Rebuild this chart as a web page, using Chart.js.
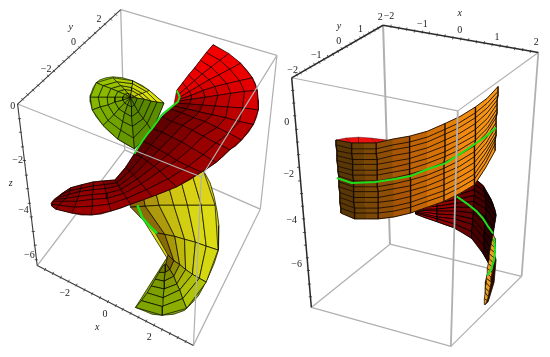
<!DOCTYPE html>
<html>
<head>
<meta charset="utf-8">
<style>
  html, body { margin: 0; padding: 0; background: #fff; }
  canvas { display: block; }
</style>
<script src="https://cdn.jsdelivr.net/npm/chart.js@4"></script>
</head>
<body>
<canvas id="chart" width="550" height="357"></canvas>
<script>
// ---------------------------------------------------------------
// Data, in picture units (x: 0-550, y: 0-357)
// ---------------------------------------------------------------

// Left box corners
const LA = [118, 5], LB = [13, 102], LC = [277, 52], LD = [200, 177];
const LE = [33, 268], LF = [192, 350], LG = [260, 210], LH = [122, 149];
// Right box corners
const RA = [385, 21], RB = [292, 75], RC = [543, 49], RD = [461, 109];
const RE = [312, 311], RF = [454, 351], RG = [526, 279], RH = [392, 246];

const backEdges = [[LA, LH], [LH, LE], [LH, LG], [RH, RE], [RH, RG]];
const heavyBackEdges = [[RA, RH]];
const frontEdges = [[LA, LC], [LB, LD], [LD, LC], [LD, LF], [LC, LG], [LF, LG],
                    [RB, RD], [RD, RC], [RE, RF], [RF, RG]];
const heavyFrontEdges = [[RD, RF], [RC, RG]];
const leftAxisEdges = [[LA, LB], [LB, LE], [LE, LF]];
const rightAxisEdges = [[RA, RB], [RA, RC], [RB, RE]];

// Tick marks along the black edges
const leftYTicks = [[113,10],[108,15],[102,20],[97,24],[92,29],[86,34],[81,39],[76,44],[71,49],[65,54],[60,58],[55,63],[50,68],[44,73],[39,78],[34,83],[29,88],[23,92],[18,97]];
const leftZTicks = [[15,117],[16,131],[18,146],[20,160],[22,175],[23,189],[25,204],[27,218],[29,233],[31,247],[32,262]];
const leftXTicks = [[41,272],[49,276],[57,280],[65,284],[73,288],[81,293],[89,297],[97,301],[105,305],[113,309],[120,313],[128,317],[136,321],[144,325],[152,329],[160,334],[168,338],[176,342],[184,346]];
const rightXTicks = [[393,22],[401,24],[409,25],[417,27],[425,28],[432,29],[440,31],[448,32],[456,34],[464,35],[472,36],[480,38],[488,39],[496,41],[504,42],[511,43],[519,45],[527,46],[535,48]];
const rightYTicks = [[380,24],[376,26],[371,29],[366,32],[362,34],[357,37],[352,40],[348,43],[343,45],[339,48],[334,51],[329,53],[325,56],[320,59],[315,61],[311,64],[306,67],[301,70],[297,72]];
const rightZTicks = [[293,88],[294,101],[295,114],[297,128],[298,141],[299,154],[299,167],[300,181],[302,194],[303,207],[304,220],[305,234],[306,247],[308,260],[309,273],[310,287],[311,300]];

// Tick labels and axis letters
const labelTexts = ['2','0','−2','0','−2','−4','−6','−2','0','2','2','−2','−1','0','1','2','1','0','−1','−2','0','−2','−4','−6'];
const labelXs = [96,70,42,8,13,19,25,61,102,147,382,391,425,463,501,541,362,340,317,293,287,289,292,297];
const labelYs = [15,39,66,104,160,211,257,297,318,342,13,12,20,26,33,39,25,38,52,67,121,174,222,267];
const letterTexts = ['y','z','x','y','x'];
const letterXs = [67,6,94,340,463];
const letterYs = [23,183,331,22,9];

// Left plot, back sheet: spokes running from the centre to the rim
const greenOutline = [[162,101],[155,95],[147,88],[140,83],[130,78],[120,75],[110,74],[103,75],[97,77],[93,80],[90,85],[87,93],[87,100],[89,108],[93,115],[100,124],[107,131],[115,138],[123,143],[132,148],[150,130]];
const greenSpokes = [
  [[128,95],[135,96],[142,97],[149,99],[155,100],[162,101]],
  [[128,95],[132,94],[136,92],[140,91],[144,89],[147,88]],
  [[128,95],[128,92],[129,88],[129,85],[130,81],[130,78]],
  [[128,95],[125,91],[122,87],[118,83],[114,79],[110,75]],
  [[128,95],[122,92],[115,89],[108,86],[100,83],[93,80]],
  [[128,95],[120,95],[112,95],[104,95],[95,95],[87,95]],
  [[128,95],[120,98],[112,100],[105,103],[97,105],[89,108]],
  [[128,95],[122,101],[116,107],[111,113],[105,119],[100,124]],
  [[128,95],[125,103],[122,111],[120,120],[118,129],[115,138]],
  [[128,95],[129,105],[129,115],[130,125],[131,137],[132,148]],
  [[128,95],[132,103],[136,110],[141,117],[145,122],[150,130]],
  [[128,95],[135,96],[142,97],[149,99],[155,100],[162,101]]
];
const greenColors = ['#e2e40e','#d4de0c','#b4d006','#98c400','#8cbc00','#86b600','#7cae00','#72a400','#689800','#5c8c00','#5c8c00'];

// Left plot, lower sheet
const yellowOutlineUpper = [[128,200],[202,170],[209,183],[213,197],[216,212],[218,227],[218,240],[217,252],[213,266],[207,280],[165,260]];
const yellowOutlineLower = [[165,260],[207,280],[202,290],[197,299],[190,307],[183,314],[172,318],[160,319],[150,318],[143,315],[133,311]];
const yellowSpokes = [
  [[126,200],[140,192],[152,186],[165,180],[178,176],[190,172],[202,170]],
  [[128,208],[143,207],[157,206],[172,206],[186,206],[200,206],[214,206]],
  [[153,234],[163,236],[173,238],[183,241],[194,244],[205,248],[217,252]],
  [[166,257],[172,263],[178,267],[184,272],[191,277],[198,281],[205,285]],
  [[164,266],[168,272],[172,279],[175,287],[178,293],[181,302],[185,312]],
  [[163,267],[163,275],[162,284],[162,292],[161,301],[160,310],[160,319]],
  [[161,268],[157,275],[153,282],[149,289],[145,296],[139,304],[133,311]]
];
const yellowColors = ['#dcd414','#dcdc14','#d4d810','#b0c408','#8cac00','#80a400'];
const yellowRings = [0.62, 0.36, 0.18, 0.08, 0.02, 0];
const yellowStrength = [1, 1, 1, 1, 0.7, 0.5];

// Left plot, red sheet: spokes from the green curve out to the rim
const redOutlineUpper = [[175,88],[212,41],[222,47],[232,54],[240,60],[247,68],[252,75],[255,81],[257,88],[258,98],[258,108],[256,116],[253,123],[172,104]];
const redOutlineLower = [[172,104],[253,123],[248,131],[241,139],[235,145],[229,149],[222,156],[215,162],[208,167],[200,172],[188,180],[175,187],[163,192],[150,197],[139,201],[128,205],[118,209],[108,212],[98,215],[88,216],[78,216],[68,214],[60,212],[52,210],[48,207],[47,204],[50,200],[58,194],[67,188],[78,185],[90,182],[100,181],[112,180],[123,167],[132,153],[140,140],[150,127],[160,115]];
const redSpokes = [
  [[175,88],[181,80],[187,72],[193,65],[199,57],[205,49],[212,41]],
  [[177,92],[185,85],[193,78],[201,71],[210,64],[219,57],[228,50]],
  [[178,95],[188,89],[198,83],[208,77],[218,72],[229,66],[240,60]],
  [[178,97],[190,93],[202,88],[214,84],[226,81],[239,78],[252,75]],
  [[177,99],[190,97],[204,95],[217,93],[230,91],[244,89],[257,88]],
  [[175,101],[188,102],[201,103],[214,104],[227,105],[242,106],[258,108]],
  [[172,104],[185,107],[198,110],[211,113],[225,116],[239,120],[253,123]],
  [[168,107],[180,111],[192,116],[204,120],[216,126],[228,132],[241,139]],
  [[160,115],[170,120],[181,124],[191,129],[202,135],[215,142],[229,149]],
  [[150,127],[160,131],[170,136],[180,141],[190,147],[202,154],[215,162]],
  [[140,140],[149,144],[157,149],[166,154],[175,160],[187,166],[200,172]],
  [[132,153],[139,157],[145,161],[152,166],[158,171],[166,179],[175,187]],
  [[123,167],[127,171],[131,175],[135,179],[139,184],[144,190],[150,197]],
  [[112,180],[114,183],[116,186],[118,190],[121,194],[124,199],[128,205]],
  [[100,181],[101,185],[102,189],[103,194],[104,199],[106,205],[108,212]],
  [[90,182],[90,186],[90,190],[89,195],[89,200],[89,207],[88,216]],
  [[78,185],[77,189],[76,192],[75,197],[73,202],[71,208],[68,214]],
  [[67,188],[66,191],[65,195],[62,199],[59,202],[55,206],[52,210]],
  [[58,194],[56,196],[54,198],[51,200],[49,202],[48,205],[48,207]]
];
const redColors = ['#f40000','#f00000','#ec0000','#e40000','#d80000','#c80000','#b80000','#aa0000','#a20000','#9c0000','#980000','#940000','#940000','#980000','#a40000','#9c0000','#900000','#880000'];
const redRings = [0.5, 0.4, 0.28, 0.18, 0.08, 0];
const redStrength = [0.1, 0.15, 0.3, 0.5, 0.8, 1, 1, 1, 1, 1, 1, 0.9, 0.7, 0.5, 0.3, 0.3, 0.3, 0.3];

// Right plot, orange band: one list per column, top to bottom
const bandColumns = [
  [[337,139],[337,144],[338,150],[338,155],[338,160],[339,166],[339,171],[340,176],[340,182],[340,187],[341,193],[341,198],[341,203],[342,209],[342,214]],
  [[353,142],[353,148],[353,153],[354,159],[354,164],[354,170],[354,175],[355,181],[355,187],[355,192],[355,198],[355,203],[356,209],[356,214],[356,220]],
  [[366,142],[366,148],[366,153],[366,159],[366,164],[367,170],[367,175],[367,181],[367,187],[367,192],[367,198],[367,203],[368,209],[368,214],[368,220]],
  [[378,142],[378,148],[378,153],[379,159],[379,164],[379,170],[379,175],[379,181],[379,187],[380,192],[380,198],[380,203],[380,209],[380,214],[380,220]],
  [[395,138],[395,144],[395,149],[395,155],[395,161],[395,167],[395,172],[396,178],[396,184],[396,189],[396,195],[396,201],[396,207],[396,212],[396,218]],
  [[412,135],[412,141],[412,146],[412,152],[412,158],[412,163],[412,169],[412,174],[413,180],[413,186],[413,191],[413,197],[413,203],[413,208],[413,214]],
  [[430,130],[430,136],[430,141],[430,147],[430,152],[430,158],[430,163],[430,169],[430,175],[430,180],[430,186],[430,191],[430,197],[430,202],[430,208]],
  [[448,122],[448,128],[448,133],[448,139],[448,145],[448,151],[448,156],[447,162],[447,168],[447,173],[447,179],[447,185],[447,191],[447,196],[447,202]],
  [[463,115],[463,121],[463,126],[463,132],[463,138],[463,143],[463,149],[463,154],[463,160],[463,166],[463,171],[463,177],[463,183],[463,188],[463,194]],
  [[479,105],[479,111],[479,116],[479,122],[479,128],[479,134],[479,139],[478,145],[478,151],[478,156],[478,162],[478,168],[478,174],[478,179],[478,185]],
  [[491,96],[491,101],[491,106],[491,111],[491,117],[491,122],[491,127],[490,132],[490,137],[490,142],[490,147],[489,153],[489,158],[489,163],[489,168]],
  [[502,84],[502,89],[502,93],[501,98],[501,102],[501,107],[501,111],[500,116],[500,121],[500,125],[500,130],[500,134],[499,139],[499,143],[499,150]]
];
const bandColors = ['#5a3806','#6a4006','#7c4806','#8e4e06','#a85606','#c06408','#d47208','#e6800c','#f08a10','#f49214','#f89a18'];
const bandLineColumns = [0, 1, 3, 5, 7, 9, 11];

// Right plot, red cap on top of the band
const capBack = [[337,139],[347,137],[360,136],[373,137],[389,139]];
const capFront = [[337,139],[353,142],[360,142],[378,142],[389,139]];
const capColors = ['#e81010','#f01010','#f01010','#e81010'];

// Right plot, dark sheet behind the band
const darkOutline = [[418,205],[418,215],[428,219],[440,223],[448,226],[457,229],[466,234],[475,240],[482,247],[487,256],[492,265],[500,215],[495,200],[487,186],[478,178]];
const darkColumns = [
  [[418,205],[418,206],[418,207],[418,208],[418,209],[418,210],[418,211],[418,212],[418,213],[418,214],[418,215]],
  [[440,195],[440,198],[440,201],[440,204],[440,207],[440,210],[440,212],[440,215],[440,218],[440,220],[440,223]],
  [[459,188],[459,192],[459,196],[459,200],[459,204],[458,208],[458,212],[458,216],[458,220],[457,225],[457,229]],
  [[478,178],[478,184],[478,190],[478,196],[477,202],[477,208],[477,214],[476,220],[476,226],[475,233],[475,240]],
  [[487,186],[488,192],[489,198],[490,204],[490,210],[489,218],[489,225],[488,233],[488,240],[488,248],[487,256]],
  [[495,200],[497,205],[499,211],[500,217],[499,223],[498,229],[497,236],[495,243],[494,250],[493,257],[492,265]]
];
const darkColors = ['#b80808','#900404','#680202','#460000','#2a0000'];

// Right plot, the thin twisted end of the sheet
const twistShadow = [[498,255],[500,262],[498,285],[492,305],[489,308],[489,285]];
const twistRows = [
  [[497,236],[499,240]],[[496,241],[499,245]],[[495,246],[499,250]],[[494,251],[499,255]],
  [[493,256],[498,260]],[[493,261],[497,265]],[[492,266],[497,270]],[[491,271],[496,275]],
  [[491,276],[495,280]],[[490,281],[495,285]],[[490,286],[494,290]],[[489,291],[493,295]],
  [[489,296],[492,300]],[[488,302],[491,304]],[[488,308],[489,308]]
];

// Green curves lying on the surfaces
const leftCurveUpper = [[175,88],[177,92],[178,95],[176,100],[172,103],[166,108],[160,113],[155,120],[150,127],[145,133],[140,140],[136,146],[132,153]];
const leftCurveLower = [[135,206],[140,219],[147,227],[155,235]];
const rightCurveBand = [[338,178],[353,183],[377,182],[397,179],[413,176],[430,169],[448,163],[464,153],[480,142],[490,135],[500,126]];
const rightCurveDark = [[460,197],[470,204],[480,212],[487,220],[492,228],[497,235]];
const rightCurveTwist = [[498,240],[499,252],[498,262],[495,272],[491,278]];

// ---------------------------------------------------------------
// Helpers that turn the lists above into Chart.js datasets
// ---------------------------------------------------------------
const MESH_LINE = 'rgba(0,0,0,0.85)';
const CURVE_GREEN = '#1ce01c';
const toPts = (list) => list.map((p) => ({ x: p[0], y: p[1] }));

function mix(a, b, t) {
  const ch = (h, i) => parseInt(h.substr(1 + i * 2, 2), 16);
  const out = [0, 1, 2].map((i) => Math.round(ch(a, i) * (1 - t) + ch(b, i) * t));
  return `rgb(${out[0]},${out[1]},${out[2]})`;
}

const datasets = [];

function addLine(list, color, width) {
  datasets.push({ data: toPts(list), showLine: true, borderColor: color, borderWidth: width, pointRadius: 0, fill: false, tension: 0 });
}

function addPoly(list, color, lineColor, width) {
  datasets.push({ data: toPts(list.concat([list[0]])), showLine: true, fill: 'shape', backgroundColor: color, borderColor: lineColor, borderWidth: width, pointRadius: 0, tension: 0 });
}

// Each cell of a grid becomes one filled four-sided shape.
// ringMix says how far each ring leans to the shadow colour,
// strength scales that for each column.
function addMesh(columns, colors, ringMix, shadow, width, strength) {
  for (let c = 0; c < columns.length - 1; c++) {
    for (let r = 0; r < columns[c].length - 1; r++) {
      const cell = [columns[c][r], columns[c + 1][r], columns[c + 1][r + 1], columns[c][r + 1]];
      const t = (ringMix[r] || 0) * (strength ? strength[c] : 1);
      addPoly(cell, mix(colors[c], shadow, Math.min(t, 1)), MESH_LINE, width);
    }
  }
}

function addTicks(list, angle) {
  datasets.push({ data: toPts(list), showLine: false, pointStyle: 'line', pointRadius: 1.6, pointRotation: angle, pointBorderColor: '#333', pointBorderWidth: 0.8 });
}

// Painter's order: first pushed ends up underneath
backEdges.forEach((e) => addLine(e, '#b0b0b0', 1.3));
heavyBackEdges.forEach((e) => addLine(e, '#b0b0b0', 2));

addPoly(greenOutline, '#8cbc00', '#1c2800', 0.7);
addMesh(greenSpokes, greenColors, [0.1, 0.08, 0.05, 0.02, 0], '#203000', 0.7);

addPoly(yellowOutlineUpper, '#d4d410', '#222200', 0.8);
addPoly(yellowOutlineLower, '#86a800', '#1c2800', 0.8);
addMesh(yellowSpokes, yellowColors, yellowRings, '#5a2800', 0.8, yellowStrength);
addLine(leftCurveLower, CURVE_GREEN, 2.5);

addPoly(redOutlineUpper, '#e40000', '#300000', 0.7);
addPoly(redOutlineLower, '#a00000', '#300000', 0.7);
addMesh(redSpokes, redColors, redRings, '#200000', 0.7, redStrength);
addLine(leftCurveUpper, CURVE_GREEN, 2);

addPoly(darkOutline, '#700000', '#200000', 0.7);
addMesh(darkColumns, darkColors, [], '#000000', 0.9);
addLine(rightCurveDark, CURVE_GREEN, 2);
addPoly(twistShadow, '#2a0a00', '#1a0800', 0.8);
for (let r = 0; r < twistRows.length - 1; r++) {
  addPoly([twistRows[r][0], twistRows[r][1], twistRows[r + 1][1], twistRows[r + 1][0]], '#eda020', '#1a1000', 0.7);
}
addLine(rightCurveTwist, CURVE_GREEN, 2);

for (let i = 0; i < capBack.length - 1; i++) {
  addPoly([capBack[i], capBack[i + 1], capFront[i + 1], capFront[i]], capColors[i], 'rgba(60,0,0,0.6)', 0.7);
}
// Band: cells without a dark edge, then the rows and only some of the columns
for (let c = 0; c < bandColumns.length - 1; c++) {
  for (let r = 0; r < bandColumns[c].length - 1; r++) {
    const cell = [bandColumns[c][r], bandColumns[c + 1][r], bandColumns[c + 1][r + 1], bandColumns[c][r + 1]];
    addPoly(cell, bandColors[c], bandColors[c], 0.5);
  }
}
for (let r = 0; r < bandColumns[0].length; r++) {
  addLine(bandColumns.map((col) => col[r]), 'rgba(25,10,0,0.9)', 1);
}
bandLineColumns.forEach((c) => addLine(bandColumns[c], '#1a0c00', 1.4));
addLine(rightCurveBand, CURVE_GREEN, 2);

frontEdges.forEach((e) => addLine(e, '#b0b0b0', 1.2));
heavyFrontEdges.forEach((e) => addLine(e, '#b0b0b0', 1.8));
leftAxisEdges.forEach((e) => addLine(e, '#3a3a3a', 1.1));
rightAxisEdges.forEach((e) => addLine(e, '#2a2a2a', 1.5));
addTicks(leftYTicks, 45);
addTicks(leftZTicks, 0);
addTicks(leftXTicks, 115);
addTicks(rightXTicks, 100);
addTicks(rightYTicks, 60);
addTicks(rightZTicks, 0);

// Tick labels go through the same scales as the marks
const labelPlugin = {
  id: 'plotLabels',
  afterDraw(chart) {
    const { ctx, scales } = chart;
    ctx.save();
    ctx.textAlign = 'center';
    ctx.textBaseline = 'middle';
    ctx.fillStyle = '#222';
    ctx.font = '10px "Liberation Serif"';
    labelTexts.forEach((t, i) => ctx.fillText(t, scales.x.getPixelForValue(labelXs[i]), scales.y.getPixelForValue(labelYs[i])));
    ctx.font = 'italic 10px "Liberation Serif"';
    letterTexts.forEach((t, i) => ctx.fillText(t, scales.x.getPixelForValue(letterXs[i]), scales.y.getPixelForValue(letterYs[i])));
    ctx.restore();
  }
};

new Chart(document.getElementById('chart'), {
  type: 'scatter',
  data: { datasets: datasets.reverse() },   // dataset 0 is drawn last by Chart.js
  options: {
    responsive: false,
    animation: false,
    layout: { padding: 0 },
    plugins: { legend: { display: false }, tooltip: { enabled: false } },
    scales: {
      x: { type: 'linear', min: 0, max: 550, display: false },
      y: { type: 'linear', min: 0, max: 357, reverse: true, display: false }
    }
  },
  plugins: [labelPlugin]
});
</script>
</body>
</html>
